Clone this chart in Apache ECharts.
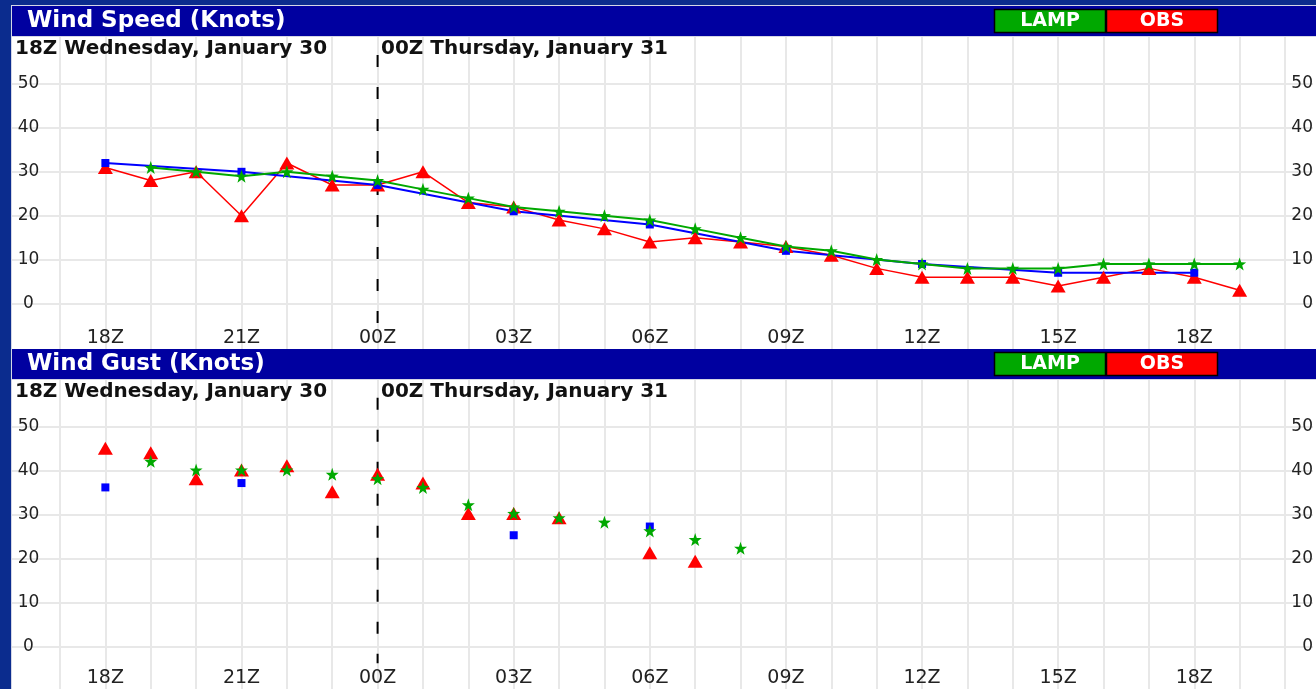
<!DOCTYPE html>
<html>
<head>
<meta charset="utf-8">
<title>Wind Speed and Gust</title>
<script src="https://cdn.jsdelivr.net/npm/echarts@6/dist/echarts.min.js"></script>
<style>
  html, body { margin: 0; padding: 0; background: #0b2c8e; }
  #chart { width: 1316px; height: 689px; }
</style>
</head>
<body>
<div id="chart"></div>
<script>
// Hourly slots, counted in hours from 00Z Wednesday January 30
const hourSlots = [18, 19, 20, 21, 22, 23, 24, 25, 26, 27, 28, 29, 30,
                   31, 32, 33, 34, 35, 36, 37, 38, 39, 40, 41, 42, 43];

// Tick labels along the time axis
const tickHours  = [18, 21, 24, 27, 30, 33, 36, 39, 42];
const tickLabels = ['18Z', '21Z', '00Z', '03Z', '06Z', '09Z', '12Z', '15Z', '18Z'];

// Day headings and the day boundary (00Z Thursday)
const dayHeadings = ['18Z Wednesday, January 30', '00Z Thursday, January 31'];
const dayBoundaryHour = 24;

// Wind speed (knots)
const speedObs  = [31, 28, 30, 20, 32, 27, 27, 30, 23, 22, 19, 17, 14,
                   15, 14, 13, 11, 8, 6, 6, 6, 4, 6, 8, 6, 3];
const speedLamp = [null, 31, 30, 29, 30, 29, 28, 26, 24, 22, 21, 20, 19,
                   17, 15, 13, 12, 10, 9, 8, 8, 8, 9, 9, 9, 9];
const speedMos  = [32, null, null, 30, null, null, 27, null, null, 21, null, null, 18,
                   null, null, 12, null, null, 9, null, null, 7, null, null, 7, null];

// Wind gust (knots)
const gustObs  = [45, 44, 38, 40, 41, 35, 39, 37, 30, 30, 29, null, 21,
                  19, null, null, null, null, null, null, null, null, null, null, null, null];
const gustLamp = [null, 42, 40, 40, 40, 39, 38, 36, 32, 30, 29, 28, 26,
                  24, 22, null, null, null, null, null, null, null, null, null, null, null];
const gustMos  = [36, null, null, 37, null, null, null, null, null, 25, null, null, 27,
                  null, null, null, null, null, null, null, null, null, null, null, null, null];

const panelTitles = ['Wind Speed (Knots)', 'Wind Gust (Knots)'];

// ---- layout ----
const W = 1316;
const PANEL_STEP = 343;      // vertical distance between the two panels
const HEADER_TOP = 6, HEADER_H = 30;
const PANEL_TOP = 37, PANEL_H = 312;
const Y50 = 84, Y0 = 303.5;  // pixel rows of the 50 and 0 knot lines (first panel)
const X_FIRST = 60, X_LAST = 1285;   // pixel columns of hour 17 and hour 44
const HOUR_MIN = 17, HOUR_MAX = 44;
const PX_PER_KT = (Y0 - Y50) / 50;
const vTop = (Y0 - PANEL_TOP) / PX_PER_KT;
const vBottom = -(PANEL_TOP + PANEL_H - Y0) / PX_PER_KT;
const dividerSpan = [(Y0 - 55) / PX_PER_KT, -(323 - Y0) / PX_PER_KT];

const FONT = 'DejaVu Sans';
const RED = '#ff0000', GREEN = '#00a800', BLUE = '#0000ff';
const STAR = 'path://M0,-10L2.35,-3.24L9.51,-3.09L3.8,1.24L5.88,8.09L0,4L-5.88,8.09L-3.8,1.24L-9.51,-3.09L-2.35,-3.24Z';

function pairs(values) {
  return hourSlots.map((h, i) => [h, values[i]]);
}

const grids = [], xAxes = [], yAxes = [], series = [], graphics = [];

// outer frame line behind the panels
graphics.push({ type: 'rect', z: -20, shape: { x: 11, y: 5, width: W, height: 700 },
                style: { fill: '#d4d6e6' } });

function addPanel(p, obs, lamp, mos, withLines) {
  const off = p * PANEL_STEP;
  const g0 = grids.length;

  // white plotting panel and its title bar
  graphics.push({ type: 'rect', z: -10,
    shape: { x: 12, y: PANEL_TOP + off, width: W, height: PANEL_H + (p === 1 ? 10 : 0) },
    style: { fill: '#ffffff' } });
  graphics.push({ type: 'rect', z: 10,
    shape: { x: 12, y: HEADER_TOP + off, width: W, height: HEADER_H },
    style: { fill: '#0000a0' } });
  graphics.push({ type: 'text', z: 11, x: 27, y: HEADER_TOP + off + HEADER_H / 2,
    style: { text: panelTitles[p], fill: '#ffffff', font: 'bold 23px "' + FONT + '"',
             verticalAlign: 'middle' } });
  // legend boxes
  [['LAMP', GREEN, 994], ['OBS', RED, 1106]].forEach(([label, color, x]) => {
    graphics.push({ type: 'rect', z: 11,
      shape: { x: x + 0.5, y: HEADER_TOP + off + 3.5, width: 111, height: 23 },
      style: { fill: color, stroke: '#000000', lineWidth: 1.5 } });
    graphics.push({ type: 'text', z: 12, x: x + 56, y: HEADER_TOP + off + 15,
      style: { text: label, fill: '#ffffff', font: 'bold 19px "' + FONT + '"',
               align: 'center', verticalAlign: 'middle' } });
  });
  // day headings
  graphics.push({ type: 'text', z: 11, x: 15, y: 49 + off,
    style: { text: dayHeadings[0], fill: '#111111', font: 'bold 20px "' + FONT + '"',
             verticalAlign: 'middle' } });
  graphics.push({ type: 'text', z: 11, x: 381, y: 49 + off,
    style: { text: dayHeadings[1], fill: '#111111', font: 'bold 20px "' + FONT + '"',
             verticalAlign: 'middle' } });

  // grid A: knot lines across the full panel width, with labels on both sides
  grids.push({ left: 12, right: -4, top: Y50 + off, height: Y0 - Y50 });
  xAxes.push({ gridIndex: g0, type: 'value', min: 0, max: 1, show: false });
  yAxes.push({ gridIndex: g0, type: 'value', min: 0, max: 50, interval: 10, position: 'left',
    axisLine: { show: false }, axisTick: { show: false },
    splitLine: { show: true, lineStyle: { color: '#e8e8e8', width: 2 } },
    axisLabel: { inside: true, margin: 16.5, align: 'center', color: '#222222',
                 fontFamily: FONT, fontSize: 17 } });
  yAxes.push({ gridIndex: g0, type: 'value', min: 0, max: 50, interval: 10, position: 'right',
    axisLine: { show: false }, axisTick: { show: false }, splitLine: { show: false },
    axisLabel: { inside: true, margin: 0, align: 'right', color: '#222222',
                 fontFamily: FONT, fontSize: 17 } });

  // grid B: hourly columns over the full panel height, carrying the data
  grids.push({ left: X_FIRST, right: W - X_LAST, top: PANEL_TOP + off, height: PANEL_H });
  const xi = xAxes.length;
  xAxes.push({ gridIndex: g0 + 1, type: 'value', min: HOUR_MIN, max: HOUR_MAX, interval: 1,
    axisLine: { show: false }, axisTick: { show: false },
    splitLine: { show: true, lineStyle: { color: '#e8e8e8', width: 2 } },
    axisLabel: { inside: true, margin: 1, color: '#222222', fontFamily: FONT, fontSize: 19,
      formatter: v => { const k = tickHours.indexOf(v); return k >= 0 ? tickLabels[k] : ''; } } });
  const yi = yAxes.length;
  yAxes.push({ gridIndex: g0 + 1, type: 'value', min: vBottom, max: vTop, show: false });

  // day boundary
  series.push({ type: 'line', xAxisIndex: xi, yAxisIndex: yi, silent: true, symbol: 'none',
    clip: false, z: 1,
    data: [[dayBoundaryHour, dividerSpan[0]], [dayBoundaryHour, dividerSpan[1]]],
    lineStyle: { color: '#000000', width: 2, type: [12, 20] } });

  const common = { xAxisIndex: xi, yAxisIndex: yi, clip: false, silent: true, animation: false };
  if (withLines) {
    series.push(Object.assign({ type: 'line', name: 'OBS', data: pairs(obs), symbol: 'triangle',
      symbolSize: [15, 13], itemStyle: { color: RED, opacity: 1 },
      lineStyle: { color: RED, width: 1.5 } }, common));
    series.push(Object.assign({ type: 'line', name: 'MOS', data: pairs(mos), connectNulls: true,
      symbol: 'rect', symbolSize: 8, itemStyle: { color: BLUE, opacity: 1 },
      lineStyle: { color: BLUE, width: 2 } }, common));
    series.push(Object.assign({ type: 'line', name: 'LAMP', data: pairs(lamp), symbol: STAR,
      symbolSize: 13, itemStyle: { color: GREEN, opacity: 1 },
      lineStyle: { color: GREEN, width: 2 } }, common));
  } else {
    series.push(Object.assign({ type: 'scatter', name: 'OBS', data: pairs(obs), symbol: 'triangle',
      symbolSize: [15, 13], itemStyle: { color: RED, opacity: 1 } }, common));
    series.push(Object.assign({ type: 'scatter', name: 'MOS', data: pairs(mos),
      symbol: 'rect', symbolSize: 8, itemStyle: { color: BLUE, opacity: 1 } }, common));
    series.push(Object.assign({ type: 'scatter', name: 'LAMP', data: pairs(lamp), symbol: STAR,
      symbolSize: 13, itemStyle: { color: GREEN, opacity: 1 } }, common));
  }
}

addPanel(0, speedObs, speedLamp, speedMos, true);
addPanel(1, gustObs, gustLamp, gustMos, false);

const chart = echarts.init(document.getElementById('chart'), null, { renderer: 'canvas' });
chart.setOption({
  backgroundColor: '#0b2c8e',
  animation: false,
  grid: grids,
  xAxis: xAxes,
  yAxis: yAxes,
  series: series,
  graphic: { elements: graphics }
});
</script>
</body>
</html>
